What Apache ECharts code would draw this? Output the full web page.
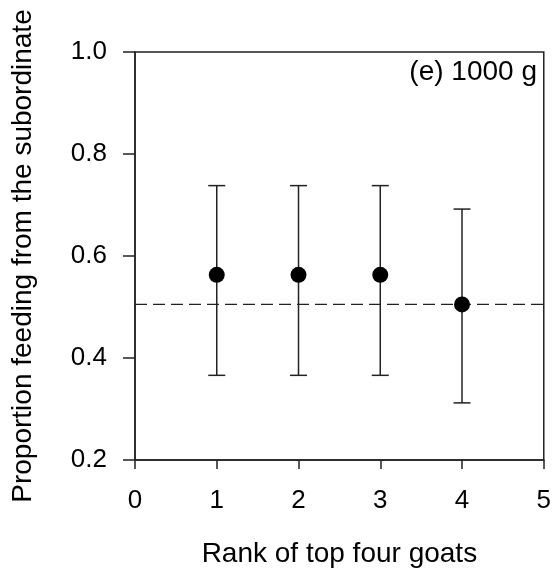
<!DOCTYPE html>
<html>
<head>
<meta charset="utf-8">
<script src="https://cdn.jsdelivr.net/npm/echarts@6/dist/echarts.min.js"></script>
<style>
  html, body { margin: 0; padding: 0; background: #fff; }
  #chart { width: 554px; height: 573px; }
</style>
</head>
<body>
<div id="chart"></div>
<script>
// Rank of each goat and proportion feeding from the subordinate (1000 g treatment)
const ranks = [1, 2, 3, 4];
const proportions = [0.563, 0.563, 0.563, 0.505];
const upperCI = [0.738, 0.738, 0.738, 0.692];
const lowerCI = [0.366, 0.366, 0.366, 0.312];
const chanceLevel = 0.505;
const panelLabel = '(e) 1000 g';
const xTicks = [0, 1, 2, 3, 4, 5];
const yTicks = [0.2, 0.4, 0.6, 0.8, 1.0];

const FONT = '"Liberation Sans", Arial, sans-serif';
const AXIS_COLOR = '#222';

const chart = echarts.init(document.getElementById('chart'), null, { renderer: 'canvas' });

const points = ranks.map((r, i) => [r, proportions[i]]);
const bars = ranks.map((r, i) => [r, lowerCI[i], upperCI[i]]);

chart.setOption({
  animation: false,
  backgroundColor: '#fff',
  grid: {
    left: 135, top: 52, right: 10, bottom: 113,
    show: true, borderColor: AXIS_COLOR, borderWidth: 1.5, backgroundColor: 'transparent'
  },
  xAxis: {
    type: 'value',
    min: xTicks[0], max: xTicks[xTicks.length - 1], interval: 1,
    name: 'Rank of top four goats',
    nameLocation: 'middle',
    nameGap: 80,
    nameTextStyle: { fontFamily: FONT, fontSize: 28, color: '#000' },
    axisLine: { show: true, onZero: false, lineStyle: { color: AXIS_COLOR, width: 1.5 } },
    axisTick: { show: true, inside: false, length: 9, lineStyle: { color: AXIS_COLOR, width: 1.5 } },
    axisLabel: { fontFamily: FONT, fontSize: 26, color: '#000', margin: 28 },
    splitLine: { show: false }
  },
  yAxis: {
    type: 'value',
    min: yTicks[0], max: yTicks[yTicks.length - 1], interval: 0.2,
    name: 'Proportion feeding from the subordinate',
    nameLocation: 'middle',
    nameGap: 98,
    nameRotate: 90,
    nameTextStyle: { fontFamily: FONT, fontSize: 28, color: '#000' },
    axisLine: { show: true, onZero: false, lineStyle: { color: AXIS_COLOR, width: 1.5 } },
    axisTick: { show: true, inside: false, length: 12, lineStyle: { color: AXIS_COLOR, width: 1.5 } },
    axisLabel: {
      fontFamily: FONT, fontSize: 26, color: '#000', margin: 28,
      formatter: v => v.toFixed(1)
    },
    splitLine: { show: false }
  },
  graphic: [{
    type: 'text',
    right: 17, top: 58,
    style: { text: panelLabel, font: '28px ' + FONT, fill: '#000' }
  }],
  series: [
    {
      // chance reference line
      type: 'line',
      data: [[xTicks[0], chanceLevel], [xTicks[xTicks.length - 1], chanceLevel]],
      symbol: 'none',
      lineStyle: { color: '#222', width: 1.3, type: [12, 6] },
      silent: true,
      z: 1
    },
    {
      // confidence interval whiskers
      type: 'custom',
      data: bars,
      renderItem: function (params, api) {
        const x = api.value(0);
        const lo = api.coord([x, api.value(1)]);
        const hi = api.coord([x, api.value(2)]);
        const half = 8.5;
        const style = { stroke: '#222', lineWidth: 1.5, fill: null };
        return {
          type: 'group',
          children: [
            { type: 'line', shape: { x1: lo[0], y1: lo[1], x2: hi[0], y2: hi[1] }, style: style },
            { type: 'line', shape: { x1: lo[0] - half, y1: lo[1], x2: lo[0] + half, y2: lo[1] }, style: style },
            { type: 'line', shape: { x1: hi[0] - half, y1: hi[1], x2: hi[0] + half, y2: hi[1] }, style: style }
          ]
        };
      },
      z: 2
    },
    {
      type: 'scatter',
      data: points,
      symbol: 'circle',
      symbolSize: 16,
      itemStyle: { color: '#000', opacity: 1 },
      z: 3
    }
  ]
});
</script>
</body>
</html>
